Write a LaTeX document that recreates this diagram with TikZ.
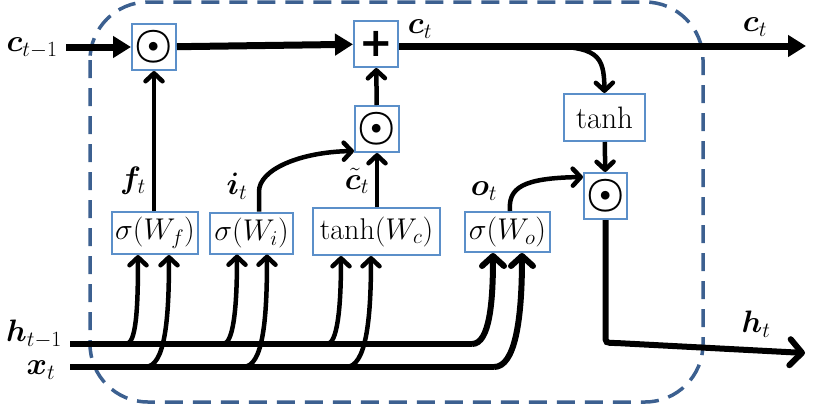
\RequirePackage{fix-cm}
\documentclass[tikz,border=0pt]{standalone}
\usepackage{bm}
\usepackage{fontspec}
\newfontfamily\symfont{DejaVu Sans}
\usetikzlibrary{arrows.meta}
\definecolor{dashblue}{HTML}{3C6090}
\definecolor{boxblue}{HTML}{5B8FC9}
\begin{document}
\begin{tikzpicture}[x=1pt,y=-1pt,
  box/.style={draw=boxblue,line width=2pt,fill=white,inner sep=0pt,font=\fontsize{30}{32}\selectfont},
  opbox/.style={box,minimum width=44pt,minimum height=46pt,font=\fontsize{43}{45}\selectfont},
  lab/.style={font=\fontsize{31}{33}\selectfont,inner sep=0pt},
  cline/.style={line width=7pt,-{Triangle[length=18pt,width=21pt]}},
  aline/.style={line width=4.5pt,-{Straight Barb[length=8pt,width=17pt,round]}},
  bline/.style={line width=6pt,-{Straight Barb[length=10pt,width=22pt,round]}},
  hline/.style={line width=6pt},
  outline/.style={line width=6pt,-{Straight Barb[length=12pt,width=26pt,round]}},
  cellbox/.style={draw=dashblue,line width=3.5pt,dash pattern=on 18pt off 10pt,rounded corners=58pt}
]
\useasboundingbox (0,0) rectangle (830,405);
\draw[cellbox] (90,2) rectangle (703,402);

% operation boxes
\node[opbox] (m1) at (154,47) {$\bm{\odot}$};
\node[opbox,font=\fontsize{40}{42}\symfont\bfseries] (plus) at (376,44) {+};
\node[opbox] (m2) at (377,129) {$\bm{\odot}$};
\node[box,minimum width=81pt,minimum height=47pt,font=\fontsize{31}{33}\selectfont] (th) at (604.5,117.5) {tanh};
\node[opbox,minimum width=43pt] (m3) at (605.5,196) {$\bm{\odot}$};
% gate boxes
\node[box,minimum width=86pt,minimum height=42pt] (sf) at (155,233) {$\sigma(W_f)$};
\node[box,minimum width=83pt,minimum height=41pt] (si) at (251.5,233) {$\sigma(W_i)$};
\node[box,minimum width=127pt,minimum height=47pt] (tc) at (376.5,231.5) {$\tanh(W_c)$};
\node[box,minimum width=85pt,minimum height=40pt] (so) at (507.5,232) {$\sigma(W_o)$};

% labels
\node[lab] (cprev) at (32,48) {$\bm{c}_{t-1}$};
\node[lab] (ctl) at (420,29) {$\bm{c}_t$};
\node[lab] (ctr) at (755,27) {$\bm{c}_t$};
\node[lab] (ft) at (133,181) {$\bm{f}_t$};
\node[lab] (it) at (237,186) {$\bm{i}_t$};
\node[lab] (ctil) at (357,181) {$\tilde{\bm{c}}_t$};
\node[lab] (ot) at (484,191) {$\bm{o}_t$};
\node[lab] (hp) at (34,334) {$\bm{h}_{t-1}$};
\node[lab] (xt) at (41,370) {$\bm{x}_t$};
\node[lab] (ht) at (756,324) {$\bm{h}_t$};

% coordinates
\coordinate (cin) at (66,47);
\coordinate (cout) at (806,46);
\coordinate (cbr) at (540,46);
\coordinate (hin) at (70,344);
\coordinate (xin) at (70,367);
\coordinate (hout) at (805,353);

% cell state line
\draw[cline] (cin) -- (m1);
\draw[cline] (m1) -- (plus);
\draw[cline] (plus.east |- cout) -- (cout);
\draw[aline] (cbr) .. controls (598,46) and (604,55) .. (th.north);
\draw[aline] (th) -- (m3);
\draw[aline] (m2) -- (plus);

% gates to operations
\draw[aline] (m1.south |- sf.north) -- (m1.south);
\draw[aline] (m2.south |- tc.north) -- (m2.south);
\draw[aline] ([xshift=7.5pt]si.north) -- ++(0,-20) .. controls ++(0,-22) and (300,152) .. ([yshift=2pt]m2.south west);
\draw[aline] ([xshift=2.5pt]so.north) .. controls (508,188) and (522,178) .. ([yshift=-5pt]m3.north west);

% output
\draw[outline] (m3.south) -- (605.5,335) .. controls (605.5,343) .. (616,343) -- (hout);

% h and x lines
\draw[hline] (hin) -- (472,344);
\draw[bline] (472,344) .. controls (490,344) and (493,300) .. ([xshift=-14.5pt]so.south);
\draw[hline] (xin) -- (494,367);
\draw[bline] (494,367) .. controls (515,367) and (522,320) .. ([xshift=14.5pt]so.south);

% branches
\draw[aline] (126,344) .. controls (136,344) and (138,310) .. ([xshift=-17pt]sf.south);
\draw[aline] (145,367) .. controls (165,367) and (169,320) .. ([xshift=14pt]sf.south);
\draw[aline] (223,344) .. controls (233,344) and (237,310) .. ([xshift=-14.5pt]si.south);
\draw[aline] (243,367) .. controls (263,367) and (267,320) .. ([xshift=15.5pt]si.south);
\draw[aline] (327,344) .. controls (337,344) and (341,310) .. ([xshift=-35.5pt]tc.south);
\draw[aline] (346,367) .. controls (366,367) and (371,320) .. ([xshift=-5.5pt]tc.south);
\end{tikzpicture}
\end{document}
